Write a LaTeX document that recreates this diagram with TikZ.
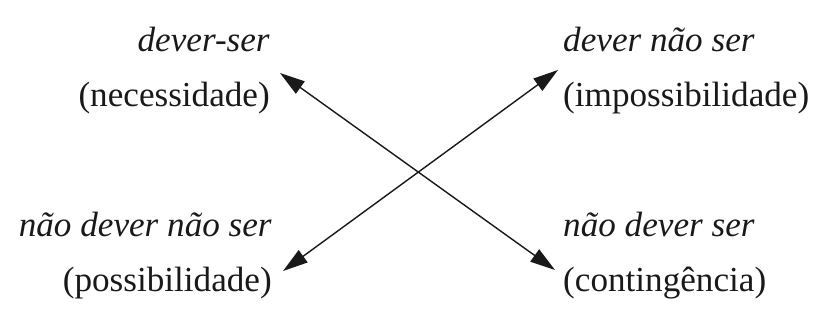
\documentclass[tikz,border=0pt]{standalone}
\usepackage{fontspec}
\setmainfont{Liberation Serif}
\usepackage{tikz}
\usetikzlibrary{arrows.meta}
\definecolor{InkDark}{RGB}{25,25,25}
\tikzset{
  modal/.style={inner sep=0pt,text=InkDark,font=\fontsize{30}{47}\selectfont},
  modalR/.style={modal,align=right},
  modalL/.style={modal,align=left},
  arr/.style={draw=InkDark,line width=1.2pt,{Triangle[length=7.5mm,width=4.5mm]}-{Triangle[length=7.5mm,width=4.5mm]}},
}

\begin{document}
\begin{tikzpicture}[x=0.03cm,y=-0.03cm]
\useasboundingbox (0,0) rectangle (830,332);
\coordinate (nec) at (280,73);
\coordinate (con) at (555,270);
\coordinate (imp) at (558,70);
\coordinate (pos) at (283,271);
\node[modalR,anchor=north east] (necessidade) at (270,27) {\textit{dever-ser}\\(necessidade)};
\node[modalL,anchor=north west] (impossibilidade) at (563,27) {\textit{dever não ser}\\(impossibilidade)};
\node[modalR,anchor=north east] (possibilidade) at (272,212) {\textit{não dever não ser}\\(possibilidade)};
\node[modalL,anchor=north west] (contingencia) at (563,212) {\textit{não dever ser}\\(contingência)};
\draw[arr] (nec)--(con);
\draw[arr] (pos)--(imp);
\end{tikzpicture}
\end{document}
